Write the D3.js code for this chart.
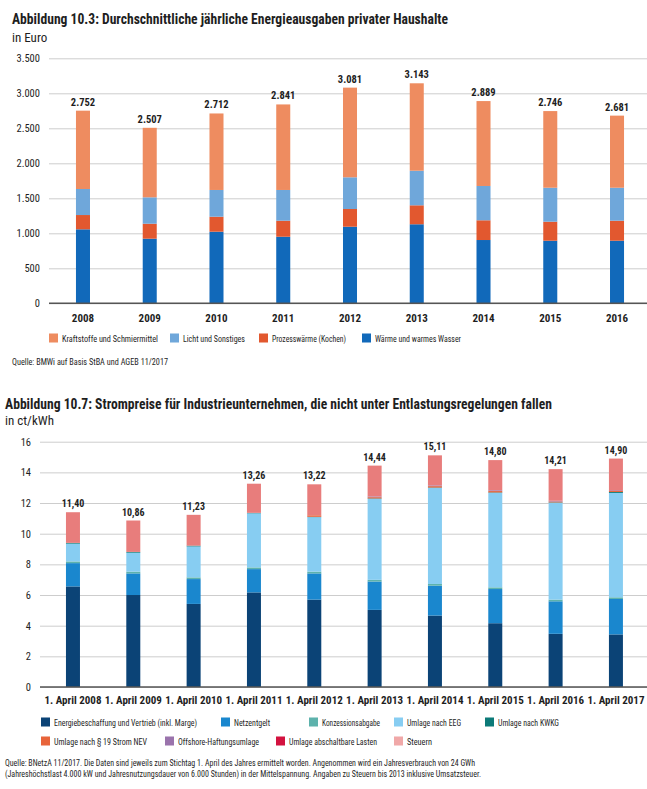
<!DOCTYPE html>
<html><head><meta charset="utf-8">
<script src="https://cdn.jsdelivr.net/npm/d3@7"></script>
<style>
body{margin:0;background:#fff;}
svg text{font-family:"Liberation Sans Narrow","Arial Narrow","Roboto Condensed","DejaVu Sans Condensed",sans-serif;fill:#1e1e1e;}
</style></head><body>
<svg id="c" width="647" height="789"></svg>
<script>
// ---------- Chart 1 data (Euro) ----------
const years1 = ["2008","2009","2010","2011","2012","2013","2014","2015","2016"];
const waerme      = [1057, 923, 1023, 951, 1094, 1129, 904, 894, 894];
const prozess     = [204, 214, 214, 229, 253, 271, 282, 272, 286];
const licht       = [372, 377, 382, 439, 453, 494, 490, 485, 471];
const kraftstoffe = [1119, 993, 1093, 1222, 1281, 1249, 1213, 1095, 1030];
const yTicks1 = [0, 500, 1000, 1500, 2000, 2500, 3000, 3500];
const names1 = ["Wärme und warmes Wasser","Prozesswärme (Kochen)","Licht und Sonstiges","Kraftstoffe und Schmiermittel"];
const colors1 = ["#1169BA","#E2582F","#6FA7DA","#EE8C60"];

// ---------- Chart 2 data (ct/kWh) ----------
const years2 = ["1. April 2008","1. April 2009","1. April 2010","1. April 2011","1. April 2012","1. April 2013","1. April 2014","1. April 2015","1. April 2016","1. April 2017"];
const energie   = [6.56, 6.00, 5.42, 6.17, 5.70, 5.03, 4.66, 4.16, 3.47, 3.43];
const netz      = [1.52, 1.41, 1.62, 1.52, 1.71, 1.85, 1.95, 2.23, 2.12, 2.31];
const konz      = [0.11, 0.11, 0.11, 0.11, 0.11, 0.11, 0.11, 0.11, 0.11, 0.11];
const eeg       = [1.16, 1.24, 2.02, 3.53, 3.56, 5.28, 6.26, 6.16, 6.31, 6.81];
const kwkg      = [0.05, 0.05, 0.05, 0.03, 0.02, 0.03, 0.03, 0.03, 0.03, 0.06];
const nev19     = [0, 0, 0, 0, 0.10, 0.08, 0.09, 0.09, 0.06, 0.09];
const offshore  = [0, 0, 0, 0, 0, 0.05, 0.05, 0.05, 0.04, 0.03];
const abschalt  = [0, 0, 0, 0, 0, 0, 0, 0, 0.01, 0.01];
const steuern   = [2.00, 2.05, 2.01, 1.90, 2.02, 2.01, 1.96, 1.97, 2.06, 2.05];
const yTicks2 = [0, 2, 4, 6, 8, 10, 12, 14, 16];
const names2 = ["Energiebeschaffung und Vertrieb (inkl. Marge)","Netzentgelt","Konzessionsabgabe","Umlage nach EEG","Umlage nach KWKG","Umlage nach § 19 Strom NEV","Offshore-Haftungsumlage","Umlage abschaltbare Lasten","Steuern"];
const colors2 = ["#0B4376","#1A87CE","#5DB2AC","#87CDF2","#0C7A78","#E8643A","#9A73AC","#D3123F","#E87D7C"];
const legendColors2 = ["#0B4376","#1A87CE","#5DB2AC","#87CDF2","#0C7A78","#E8643A","#9A73AC","#D3123F","#F0A8A8"];

const de = d3.formatLocale({decimal:",", thousands:".", grouping:[3], currency:["","€"]});
const fmtInt = de.format(",d");
const fmt2 = de.format(".2f");

const svg = d3.select("#c");

function fit(sel, w){
  const n = sel.node().getComputedTextLength();
  if (Math.abs(n - w) > w*0.02) sel.attr("textLength", w).attr("lengthAdjust","spacingAndGlyphs");
  return sel;
}

// ================= Chart 1 =================
const g1 = svg.append("g");
fit(g1.append("text").attr("x",12).attr("y",24).attr("font-size",14).attr("font-weight","bold")
  .text("Abbildung 10.3: Durchschnittliche jährliche Energieausgaben privater Haushalte"), 436);
g1.append("text").attr("x",12).attr("y",42).attr("font-size",13).text("in Euro");

const rows1 = years1.map((y,i)=>({year:y, k0:waerme[i], k1:prozess[i], k2:licht[i], k3:kraftstoffe[i]}));
const keys1 = ["k0","k1","k2","k3"];
const stack1 = d3.stack().keys(keys1)(rows1);

const x1 = d3.scaleBand().domain(years1).range([49.6,650.4]).paddingInner(0.79).paddingOuter(0.395);
const y1 = d3.scaleLinear().domain([0,3500]).range([303.3,58.3]);

const ya1 = g1.append("g").attr("transform","translate(49,0)")
  .call(d3.axisLeft(y1).tickValues(yTicks1).tickFormat(fmtInt).tickSize(-598).tickPadding(9));
ya1.select(".domain").remove();
ya1.selectAll(".tick line").attr("stroke","#cdcdcd");
ya1.selectAll(".tick text").attr("font-size",10.5).attr("fill","#1e1e1e");

g1.append("g").selectAll("g").data(stack1).join("g").attr("fill",(d,i)=>colors1[i])
  .selectAll("rect").data(d=>d).join("rect")
  .attr("x",d=>x1(d.data.year)).attr("width",x1.bandwidth())
  .attr("y",d=>y1(d[1])).attr("height",d=>y1(d[0])-y1(d[1]));

g1.append("line").attr("x1",49).attr("x2",647).attr("y1",y1(0)).attr("y2",y1(0)).attr("stroke","#555").attr("stroke-width",1.5);

g1.append("g").selectAll("text").data(rows1).join("text")
  .attr("x",d=>x1(d.year)+x1.bandwidth()/2).attr("y",d=>y1(d.k0+d.k1+d.k2+d.k3)-5)
  .attr("text-anchor","middle").attr("font-size",10.5).attr("font-weight","bold")
  .text(d=>fmtInt(d.k0+d.k1+d.k2+d.k3));

const xa1 = g1.append("g").attr("transform",`translate(0,${y1(0)})`)
  .call(d3.axisBottom(x1).tickSize(0).tickPadding(11));
xa1.select(".domain").remove();
xa1.selectAll(".tick text").attr("font-size",11).attr("font-weight","bold").attr("fill","#1e1e1e");

const leg1 = [{i:3,sx:49,tx:62,w:96},{i:2,sx:170,tx:183,w:62},{i:1,sx:259,tx:272,w:74},{i:0,sx:362,tx:375,w:86}];
const lg1 = g1.append("g");
leg1.forEach(l=>{
  lg1.append("rect").attr("x",l.sx).attr("y",333.5).attr("width",9).attr("height",9).attr("fill",colors1[l.i]);
  fit(lg1.append("text").attr("x",l.tx).attr("y",341.5).attr("font-size",9).text(names1[l.i]), l.w);
});
fit(g1.append("text").attr("x",12).attr("y",365).attr("font-size",9).text("Quelle: BMWi auf Basis StBA und AGEB 11/2017"), 156);

// ================= Chart 2 =================
const g2 = svg.append("g");
fit(g2.append("text").attr("x",5).attr("y",409).attr("font-size",14).attr("font-weight","bold")
  .text("Abbildung 10.7: Strompreise für Industrieunternehmen, die nicht unter Entlastungsregelungen fallen"), 547);
g2.append("text").attr("x",5).attr("y",425).attr("font-size",13).text("in ct/kWh");

const series2 = [energie, netz, konz, eeg, kwkg, nev19, offshore, abschalt, steuern];
const keys2 = series2.map((s,i)=>"s"+i);
const rows2 = years2.map((y,j)=>{ const o={year:y}; series2.forEach((s,i)=>o["s"+i]=s[j]); return o; });
const stack2 = d3.stack().keys(keys2)(rows2);
const totals2 = rows2.map(r=>d3.sum(keys2, k=>r[k]));

const x2 = d3.scaleBand().domain(years2).range([42.8,646.1]).paddingInner(0.768).paddingOuter(0.384);
const y2 = d3.scaleLinear().domain([0,16]).range([687,441.7]);

const ya2 = g2.append("g").attr("transform","translate(40,0)")
  .call(d3.axisLeft(y2).tickValues(yTicks2).tickFormat(d=>String(d)).tickSize(-607).tickPadding(9));
ya2.select(".domain").remove();
ya2.selectAll(".tick line").attr("stroke","#cdcdcd");
ya2.selectAll(".tick text").attr("font-size",10.5).attr("fill","#1e1e1e");

g2.append("g").selectAll("g").data(stack2).join("g").attr("fill",(d,i)=>colors2[i])
  .selectAll("rect").data(d=>d).join("rect")
  .attr("x",d=>x2(d.data.year)).attr("width",x2.bandwidth())
  .attr("y",d=>y2(d[1])).attr("height",d=>Math.max(0,y2(d[0])-y2(d[1])));

g2.append("line").attr("x1",40).attr("x2",647).attr("y1",y2(0)).attr("y2",y2(0)).attr("stroke","#555").attr("stroke-width",1.5);

g2.append("g").selectAll("text").data(rows2).join("text")
  .attr("x",d=>x2(d.year)+x2.bandwidth()/2).attr("y",(d,i)=>y2(totals2[i])-5)
  .attr("text-anchor","middle").attr("font-size",10).attr("font-weight","bold")
  .text((d,i)=>fmt2(totals2[i]));

const xa2 = g2.append("g").attr("transform",`translate(0,${y2(0)})`)
  .call(d3.axisBottom(x2).tickSize(0).tickPadding(9));
xa2.select(".domain").remove();
xa2.selectAll(".tick text").attr("font-size",11).attr("font-weight","bold").attr("fill","#1e1e1e");

const leg2 = [
  {i:0,sx:41,tx:54,y:722,w:143},{i:1,sx:221,tx:234,y:722,w:36},{i:2,sx:309,tx:322,y:722,w:58},{i:3,sx:394,tx:407,y:722,w:54},{i:4,sx:485,tx:498,y:722,w:61},
  {i:5,sx:41,tx:54,y:741,w:93},{i:6,sx:165,tx:178,y:741,w:81},{i:7,sx:276,tx:289,y:741,w:88},{i:8,sx:394,tx:407,y:741,w:25}
];
const lg2 = g2.append("g");
leg2.forEach(l=>{
  lg2.append("rect").attr("x",l.sx).attr("y",l.y-4.5).attr("width",9).attr("height",9).attr("fill",legendColors2[l.i]);
  fit(lg2.append("text").attr("x",l.tx).attr("y",l.y+3.5).attr("font-size",9).text(names2[l.i]), l.w);
});
fit(g2.append("text").attr("x",5).attr("y",766).attr("font-size",9)
  .text("Quelle: BNetzA 11/2017. Die Daten sind jeweils zum Stichtag 1. April des Jahres ermittelt worden. Angenommen wird ein Jahresverbrauch von 24 GWh"), 470);
fit(g2.append("text").attr("x",5).attr("y",777).attr("font-size",9)
  .text("(Jahreshöchstlast 4.000 kW und Jahresnutzungsdauer von 6.000 Stunden) in der Mittelspannung. Angaben zu Steuern bis 2013 inklusive Umsatzsteuer."), 476);
</script>
</body></html>
